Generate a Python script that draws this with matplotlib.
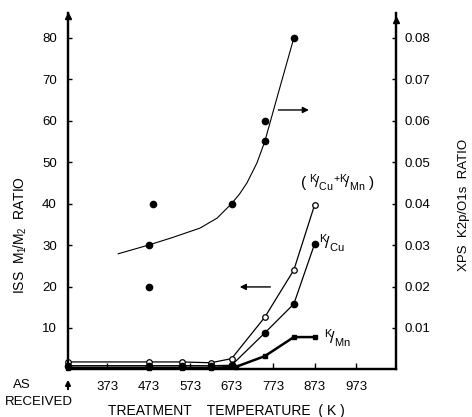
import matplotlib
matplotlib.use("Agg")
import matplotlib.pyplot as plt

plt.rcParams['font.family'] = ['Liberation Sans', 'DejaVu Sans']
plt.rcParams['mathtext.default'] = 'regular'

# ---------------- data ----------------
AS_RECEIVED = 279  # x position used for the "as received" sample
x_ticks = [373, 473, 573, 673, 773, 873, 973]
x_tick_labels = ["373", "473", "573", "673", "773", "873", "973"]
left_ticks = [10, 20, 30, 40, 50, 60, 70, 80]
right_ticks = [0.01, 0.02, 0.03, 0.04, 0.05, 0.06, 0.07, 0.08]
right_tick_labels = ["0.01", "0.02", "0.03", "0.04", "0.05", "0.06", "0.07", "0.08"]

# ISS ratios (left axis)
iss_temps = [AS_RECEIVED, 473, 553, 623, 673, 753, 823, 873]
iss_sum = [1.8, 1.8, 1.8, 1.6, 2.6, 12.6, 24.0, 39.7]       # K/Cu + K/Mn (open circles)
iss_k_cu = [0.9, 0.9, 0.9, 0.9, 1.0, 8.8, 15.8, 30.3]       # K/Cu (filled circles)
iss_k_mn_temps = [AS_RECEIVED, 473, 553, 623, 683, 753, 823, 873]
iss_k_mn = [0.4, 0.4, 0.4, 0.4, 0.6, 3.2, 7.8, 7.8]         # K/Mn (small squares)

# XPS K2p/O1s ratio (right axis)
xps_pts_temps = [473, 473, 483, 673, 753, 753, 823]
xps_pts = [0.030, 0.020, 0.040, 0.040, 0.055, 0.060, 0.080]
xps_curve_temps = [400, 473, 530, 597, 638, 673, 692, 710, 734, 753, 785, 823]
xps_curve = [0.0279, 0.030, 0.0318, 0.0341, 0.0365, 0.040, 0.0423, 0.045, 0.0498, 0.055, 0.0665, 0.080]

# ---------------- figure ----------------
W, H = 472, 417
fig = plt.figure(figsize=(W / 100, H / 100), dpi=100)
x0, x1 = 68, 396
y_bot, y_top = 369.4, 13
ax = fig.add_axes([x0 / W, (H - y_bot) / H, (x1 - x0) / W, (y_bot - y_top) / H])
ax2 = ax.twinx()

XMIN, XMAX = 279, 1069
YMAX = 86.0
ax.set_xlim(XMIN, XMAX)
ax.set_ylim(0, YMAX)
ax2.set_ylim(0, YMAX / 1000)

for a in (ax, ax2):
    a.spines['top'].set_visible(False)
    for s in ('left', 'right', 'bottom'):
        a.spines[s].set_linewidth(1.6)

fs = 9.5
ax.set_xticks(x_ticks)
ax.set_xticklabels(x_tick_labels, fontsize=fs)
ax.set_yticks(left_ticks)
ax.set_yticklabels([str(v) for v in left_ticks], fontsize=fs)
ax.tick_params(axis='x', direction='in', length=4, width=1, pad=8)
ax.tick_params(axis='y', direction='in', length=3, width=1, pad=8)
ax2.set_yticks(right_ticks)
ax2.set_yticklabels(right_tick_labels, fontsize=fs)
ax2.tick_params(axis='y', direction='in', length=3, width=1, pad=6)

# spine arrows
ax.plot([XMIN], [YMAX - 0.8], marker='^', color='k', markersize=5, clip_on=False, zorder=5)
ax.plot([XMAX], [YMAX - 1.8], marker='^', color='k', markersize=5, clip_on=False, zorder=5)

# ISS curves
ax.plot(iss_temps, iss_sum, color='k', lw=0.9, marker='o', mfc='white', mec='k',
        markersize=4, mew=0.9, clip_on=False, zorder=4)
ax.plot(iss_temps, iss_k_cu, color='k', lw=0.9, marker='o', mfc='k', mec='k',
        markersize=4.5, clip_on=False, zorder=4)
ax.plot(iss_k_mn_temps, iss_k_mn, color='k', lw=1.8, marker='s', mfc='k', mec='k',
        markersize=3, clip_on=False, zorder=4)

# XPS curve
ax2.plot(xps_curve_temps, xps_curve, color='k', lw=0.8)
ax2.plot(xps_pts_temps, xps_pts, 'o', color='k', markersize=4.5)

# direction arrows
ax.annotate('', xy=(866, 62.6), xytext=(779, 62.6),
            arrowprops=dict(arrowstyle='-|>', lw=1.0, color='k', mutation_scale=9))
ax.annotate('', xy=(686, 19.9), xytext=(773, 19.9),
            arrowprops=dict(arrowstyle='-|>', lw=1.0, color='k', mutation_scale=9))

# labels on curves
ax.text(928, 45, r'( $^{K}\!/_{Cu}$$^{+}$$^{K}\!/_{Mn}$ )', fontsize=11, ha='center', va='center')
ax.text(884, 30.5, r'$^{K}\!/_{Cu}$', fontsize=11.5, ha='left', va='center')
ax.text(896, 7.4, r'$^{K}\!/_{Mn}$', fontsize=11.5, ha='left', va='center')

# axis titles
fig.text(20 / W, 1 - 235 / H, r'ISS  $M_1\!/M_2$  RATIO', rotation=90, fontsize=10,
         ha='center', va='center')
fig.text(464 / W, 1 - 205 / H, 'XPS  K2p/O1s  RATIO', rotation=90, fontsize=9.5,
         ha='center', va='center')
fig.text(226 / W, 1 - 411 / H, 'TREATMENT    TEMPERATURE  ( K )', fontsize=10,
         ha='center', va='center')
fig.text(13 / W, 1 - 385 / H, 'AS', fontsize=9.5, ha='left', va='center')
fig.text(5 / W, 1 - 402 / H, 'RECEIVED', fontsize=9.5, ha='left', va='center')
fig.patches.append(matplotlib.patches.FancyArrowPatch(
    (68 / W, 1 - 392 / H), (68 / W, 1 - 377 / H), transform=fig.transFigure,
    arrowstyle='-|>', mutation_scale=7, lw=1.5, color='k'))

fig.savefig('out.png', dpi=100)
